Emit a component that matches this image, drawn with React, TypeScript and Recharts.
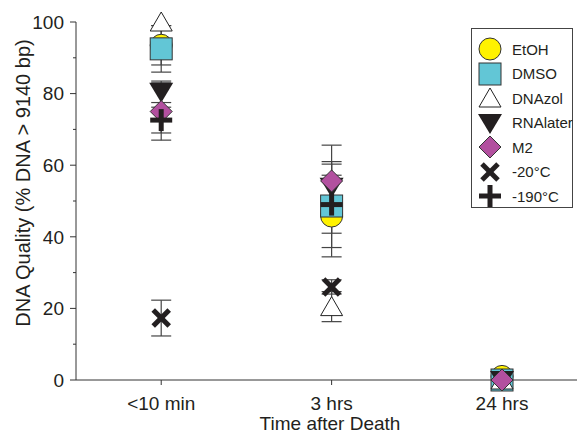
import React from "react";
import {
  ScatterChart,
  Scatter,
  XAxis,
  YAxis,
  ErrorBar,
  Legend,
} from "recharts";

const FONT = "'Liberation Sans', Arial, Helvetica, sans-serif";
const INK = "#231f20";

const categories = ["<10 min", "3 hrs", "24 hrs"];
const yTicks = [0, 10, 20, 30, 40, 50, 60, 70, 80, 90, 100];

// mean DNA quality per time point, and error (+/-); null = not plotted
const etohMean = [93.5, 45.8, 1];
const etohErr = [5.5, 11.4, 0];
const dmsoMean = [92.5, 48.6, 0];
const dmsoErr = [6.5, 7.6, 0];
const dnazolMean = [100, 20.5, 0];
const dnazolErr = [0, 4.2, 0];
const rnalaterMean = [80.5, 54, 0];
const rnalaterErr = [3, 6.3, 0];
const m2Mean = [75, 55.6, 0];
const m2Err = [8, 10, 0];
const minus20Mean = [17.3, 26, null];
const minus20Err = [5, 2, 0];
const minus190Mean = [72.6, 49, null];
const minus190Err = [3.6, 12, 0];

type Kind = "circle" | "square" | "triUp" | "triDown" | "diamond" | "x" | "plus";

const series: { name: string; kind: Kind; mean: (number | null)[]; err: number[] }[] = [
  { name: "EtOH", kind: "circle", mean: etohMean, err: etohErr },
  { name: "DMSO", kind: "square", mean: dmsoMean, err: dmsoErr },
  { name: "DNAzol", kind: "triUp", mean: dnazolMean, err: dnazolErr },
  { name: "RNAlater", kind: "triDown", mean: rnalaterMean, err: rnalaterErr },
  { name: "M2", kind: "diamond", mean: m2Mean, err: m2Err },
  { name: "-20°C", kind: "x", mean: minus20Mean, err: minus20Err },
  { name: "-190°C", kind: "plus", mean: minus190Mean, err: minus190Err },
];

function Marker({ kind, cx, cy }: { kind: Kind; cx: number; cy: number }) {
  switch (kind) {
    case "circle":
      return <circle cx={cx} cy={cy} r={11} fill="#FFF200" stroke="#333" strokeWidth={1} />;
    case "square":
      return (
        <rect x={cx - 11} y={cy - 11} width={22} height={22} fill="#62C6D6" stroke="#333" strokeWidth={1} />
      );
    case "triUp":
      return (
        <polygon
          points={`${cx},${cy - 10} ${cx + 11},${cy + 9} ${cx - 11},${cy + 9}`}
          fill="#fff"
          stroke="#222"
          strokeWidth={1}
        />
      );
    case "triDown":
      return (
        <polygon points={`${cx - 12},${cy - 9} ${cx + 12},${cy - 9} ${cx},${cy + 11}`} fill={INK} />
      );
    case "diamond":
      return (
        <polygon
          points={`${cx},${cy - 11} ${cx + 11},${cy} ${cx},${cy + 11} ${cx - 11},${cy}`}
          fill="#B2509F"
          stroke="#333"
          strokeWidth={1}
        />
      );
    case "x":
      return (
        <g stroke={INK} strokeWidth={5}>
          <line x1={cx - 8} y1={cy - 8} x2={cx + 8} y2={cy + 8} />
          <line x1={cx - 8} y1={cy + 8} x2={cx + 8} y2={cy - 8} />
        </g>
      );
    case "plus":
      return (
        <g stroke={INK} strokeWidth={5}>
          <line x1={cx - 11} y1={cy} x2={cx + 11} y2={cy} />
          <line x1={cx} y1={cy - 11} x2={cx} y2={cy + 11} />
        </g>
      );
  }
  return null;
}

const YTick = (props: any) => {
  const { x, y, payload } = props;
  const axisX = x + 12; // tickSize + tickMargin
  const major = payload.value % 20 === 0;
  return (
    <g>
      <line x1={axisX - (major ? 6 : 3)} y1={y} x2={axisX} y2={y} stroke="#333" />
      {major && (
        <text x={axisX - 12} y={y} dy="0.36em" textAnchor="end" fontSize={19} fill={INK} fontFamily={FONT}>
          {payload.value}
        </text>
      )}
    </g>
  );
};

const renderLegend = () => (
  <div
    style={{
      border: "1px solid #444",
      width: 100,
      padding: "8px 0 0 0",
      height: 170,
      background: "#fff",
      fontFamily: FONT,
      fontSize: 15,
      color: INK,
    }}
  >
    {series.map((s) => (
      <div key={s.name} style={{ display: "flex", alignItems: "center", height: 24.5 }}>
        <svg width={24} height={24} style={{ marginLeft: 6, marginRight: 10, overflow: "visible" }}>
          <Marker kind={s.kind} cx={12} cy={12} />
        </svg>
        <span>{s.name}</span>
      </div>
    ))}
  </div>
);

export default function App() {
  return (
    <div style={{ position: "absolute", left: 0, top: 0, background: "#fff" }}>
      <ScatterChart width={577} height={435} margin={{ top: 22, right: 0, bottom: 25, left: 0 }}>
        <XAxis
          type="number"
          dataKey="x"
          domain={[-0.5, 2.44]}
          ticks={[0, 1, 2]}
          tickFormatter={(i: number) => categories[i]}
          allowDataOverflow
          height={30}
          tickSize={5}
          tickMargin={12}
          stroke="#333"
          tick={{ fontSize: 19, fill: INK, fontFamily: FONT }}
          label={{
            content: () => (
              <text x={330} y={430} textAnchor="middle" fontSize={19} fill={INK} fontFamily={FONT}>
                Time after Death
              </text>
            ),
          }}
        />
        <YAxis
          type="number"
          dataKey="y"
          domain={[0, 100]}
          ticks={yTicks}
          width={76}
          tickSize={6}
          tickMargin={6}
          tickLine={false}
          stroke="#333"
          tick={<YTick />}
          label={{
            content: () => (
              <text
                x={30}
                y={183}
                transform="rotate(-90 30 183)"
                textAnchor="middle"
                fontSize={20}
                fill={INK}
                fontFamily={FONT}
              >
                DNA Quality (% DNA &gt; 9140 bp)
              </text>
            ),
          }}
        />
        <Legend
          layout="vertical"
          align="center"
          verticalAlign="middle"
          content={renderLegend}
          wrapperStyle={{ top: 28, left: 471, width: 102 }}
        />
        {series.map((s) => (
          <Scatter
            key={s.name}
            name={s.name}
            data={s.mean
              .map((v, i) => ({ x: i, y: v, err: s.err[i] }))
              .filter((d) => d.y !== null)}
            isAnimationActive={false}
            shape={(p: any) => <Marker kind={s.kind} cx={p.cx} cy={p.cy} />}
          >
            <ErrorBar dataKey="err" direction="y" width={10} stroke="#444" strokeWidth={1.2} />
          </Scatter>
        ))}
      </ScatterChart>
    </div>
  );
}
